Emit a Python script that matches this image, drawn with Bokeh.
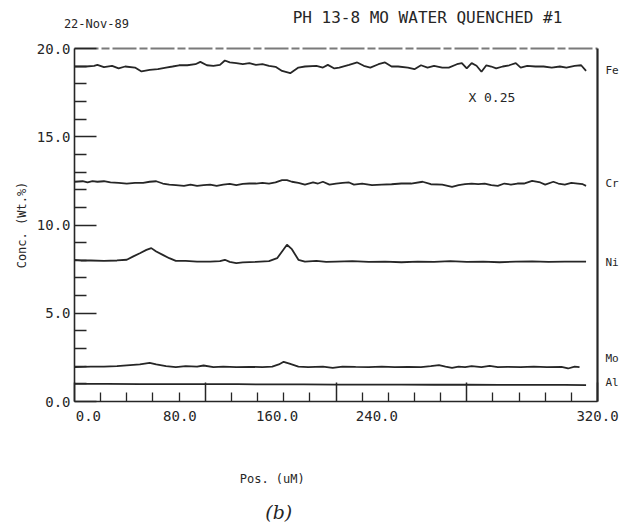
from bokeh.plotting import figure
from bokeh.models import Range1d, FixedTicker, Label, LinearAxis, PrintfTickFormatter
from bokeh.embed import file_html
from bokeh.resources import INLINE

# ---- data ----
fe_x = [0, 7, 12, 14, 18, 23, 27, 31, 37, 41, 46, 51, 56, 60, 64, 69, 74, 77, 81, 85,
        89, 92, 95, 99, 103, 107, 111, 115, 119, 123, 127, 132, 137, 141, 148, 152, 155, 159, 162, 168,
        173, 177, 181, 186, 190, 194, 198, 204, 208, 212, 216, 220, 225, 229, 234, 237, 240, 243, 246, 249,
        252, 255, 258, 262, 266, 270, 273, 277, 282, 287, 292, 297, 301, 306, 310, 313]
fe_y = [18.98, 18.98, 19.02, 19.07, 18.94, 19.02, 18.87, 18.98, 18.92, 18.70,
        18.79, 18.83, 18.92, 18.98, 19.05, 19.05, 19.11, 19.24, 19.05, 19.02,
        19.07, 19.32, 19.21, 19.17, 19.11, 19.17, 19.07, 19.11, 19.02, 18.96,
        18.73, 18.60, 18.92, 18.98, 19.02, 18.92, 19.07, 18.87, 18.92, 19.07,
        19.21, 19.02, 18.92, 19.11, 19.21, 18.98, 18.98, 18.92, 18.83, 19.05,
        18.92, 19.02, 18.92, 18.92, 19.11, 19.17, 18.87, 19.17, 19.02, 18.68,
        19.05, 18.98, 18.87, 18.98, 19.05, 19.17, 18.92, 19.02, 18.98, 18.98,
        18.92, 18.98, 18.92, 19.02, 19.05, 18.73]

cr_x = [0, 5, 8, 11, 14, 18, 22, 27, 32, 37, 42, 46, 50, 54, 58, 62, 67, 71, 75, 79,
        83, 87, 91, 95, 99, 103, 107, 111, 115, 119, 123, 127, 130, 133, 137, 141, 146, 149, 152, 156,
        160, 164, 168, 171, 176, 182, 188, 194, 200, 206, 213, 218, 225, 231, 235, 239, 243, 247, 251, 255,
        259, 263, 267, 271, 275, 280, 285, 288, 293, 296, 300, 304, 308, 311, 313]
cr_y = [12.45, 12.48, 12.41, 12.48, 12.45, 12.48, 12.41, 12.39, 12.35, 12.39,
        12.39, 12.45, 12.48, 12.35, 12.29, 12.26, 12.22, 12.29, 12.22, 12.26,
        12.29, 12.22, 12.29, 12.33, 12.26, 12.33, 12.35, 12.35, 12.39, 12.35,
        12.41, 12.54, 12.54, 12.45, 12.39, 12.29, 12.41, 12.35, 12.45, 12.29,
        12.35, 12.39, 12.41, 12.29, 12.35, 12.26, 12.29, 12.31, 12.35, 12.35,
        12.45, 12.31, 12.29, 12.16, 12.26, 12.31, 12.35, 12.31, 12.35, 12.26,
        12.22, 12.35, 12.29, 12.35, 12.35, 12.50, 12.41, 12.29, 12.45, 12.35,
        12.29, 12.39, 12.35, 12.31, 12.22]

ni_x = [0, 4, 10, 18, 26, 32, 36, 40, 44, 47, 50, 54, 58, 62, 68, 75, 83, 89, 92, 95,
        99, 103, 111, 119, 124, 127, 130, 133, 137, 141, 148, 154, 160, 170, 180, 190, 200, 210, 220, 230,
        240, 250, 260, 270, 280, 290, 300, 313]
ni_y = [8.03, 7.99, 7.99, 7.97, 7.99, 8.03, 8.22, 8.40, 8.59, 8.69,
        8.50, 8.31, 8.12, 7.97, 7.97, 7.93, 7.93, 7.95, 8.03, 7.91,
        7.84, 7.88, 7.91, 7.95, 8.12, 8.50, 8.88, 8.63, 8.03, 7.93,
        7.97, 7.91, 7.93, 7.95, 7.91, 7.93, 7.89, 7.93, 7.91, 7.95,
        7.91, 7.93, 7.89, 7.92, 7.94, 7.91, 7.93, 7.92]

mo_x = [0, 10, 18, 26, 34, 40, 46, 50, 56, 62, 68, 75, 79, 85, 91, 99, 107, 115, 121, 125,
        128, 132, 137, 143, 152, 158, 164, 172, 180, 188, 196, 204, 212, 218, 223, 227, 231, 235, 239, 243,
        249, 254, 259, 265, 273, 281, 289, 298, 302, 306, 309]
mo_y = [1.95, 1.98, 1.98, 2.00, 2.06, 2.10, 2.19, 2.10, 2.00, 1.95,
        2.00, 1.98, 2.04, 1.95, 1.98, 1.95, 1.96, 1.95, 1.98, 2.10,
        2.25, 2.13, 1.98, 1.95, 1.98, 1.91, 1.98, 1.96, 1.95, 1.98,
        1.95, 1.96, 1.95, 2.00, 2.06, 1.98, 1.91, 1.98, 1.95, 2.00,
        1.95, 2.02, 1.95, 1.96, 1.95, 1.98, 1.95, 1.96, 1.87, 1.98,
        1.95]

al_x = [0, 20, 40, 60, 80, 100, 120, 140, 160, 180, 200, 220, 240, 260, 280, 300, 313]
al_y = [1.00, 1.00, 0.99, 0.99, 0.98, 0.98, 0.97, 0.97, 0.96, 0.96, 0.96, 0.95, 0.95, 0.94, 0.94, 0.94, 0.93]

element_names = ["Fe", "Cr", "Ni", "Mo", "Al"]
element_label_levels = [18.75, 12.35, 7.85, 2.45, 1.05]

x_major_ticks = [0, 80, 160, 240, 320]
x_minor_ticks = [16, 32, 48, 64, 96, 112, 128, 144, 176, 192, 208, 224, 256, 272, 288, 304]
# the plotter printed its x labels offset from the tick marks; these are where they sit
x_tick_label_spots = [8.5, 64.5, 124, 185, 320]
x_tick_labels = ["0.0", "80.0", "160.0", "240.0", "320.0"]
y_major_ticks = [0, 5, 10, 15, 20]
y_minor_ticks = [1, 2, 3, 4, 6, 7, 8, 9, 11, 12, 13, 14, 16, 17, 18, 19]

title_text = "PH 13-8 MO WATER QUENCHED #1"
date_text = "22-Nov-89"
scale_note = "X 0.25"
x_label = "Pos. (uM)"
y_label = "Conc. (Wt.%)"
panel_label = "(b)"

FONT = "DejaVu Sans Mono"
INK = "#262626"

p = figure(width=635, height=525, output_backend="svg", toolbar_location=None,
           x_range=Range1d(0, 320), y_range=Range1d(0, 20),
           min_border_left=74, min_border_right=38, min_border_top=48, min_border_bottom=124)
p.background_fill_color = "white"
p.border_fill_color = "white"
p.outline_line_color = None
p.grid.visible = False

series = [(fe_x, fe_y), (cr_x, cr_y), (ni_x, ni_y), (mo_x, mo_y), (al_x, al_y)]
for xs, ys in series:
    p.line(xs, ys, line_color=INK, line_width=1.8)


def text_axis(axis, ticks, labels, size, standoff, font=FONT, style="normal", line=None, dash="solid"):
    axis.ticker = FixedTicker(ticks=ticks, minor_ticks=[])
    axis.major_label_overrides = {t: s for t, s in zip(ticks, labels)}
    axis.major_tick_line_color = None
    axis.minor_tick_line_color = None
    axis.major_tick_in = 0
    axis.major_tick_out = 0
    axis.minor_tick_in = 0
    axis.minor_tick_out = 0
    axis.major_label_standoff = standoff
    axis.major_label_text_font = font
    axis.major_label_text_font_size = size
    axis.major_label_text_font_style = style
    axis.major_label_text_color = INK
    axis.axis_line_color = line
    axis.axis_line_width = 2.0
    axis.axis_line_dash = dash


# main x axis: tick marks only (its printed labels come from the axis below)
xa = p.xaxis[0]
xa.ticker = FixedTicker(ticks=x_major_ticks, minor_ticks=x_minor_ticks)
xa.major_label_text_font_size = "0px"
xa.major_label_text_color = None
xa.major_label_standoff = 0
xa.major_tick_in = 19
xa.major_tick_out = 0
xa.minor_tick_in = 9
xa.minor_tick_out = 0

ya = p.yaxis[0]
ya.ticker = FixedTicker(ticks=y_major_ticks, minor_ticks=y_minor_ticks)
ya.formatter = PrintfTickFormatter(format="%.1f")
ya.major_tick_in = 22
ya.major_tick_out = 0
ya.minor_tick_in = 12
ya.minor_tick_out = 0
ya.major_label_standoff = 4
ya.major_label_text_font = FONT
ya.major_label_text_font_size = "14px"
ya.major_label_text_color = INK
ya.axis_label = y_label
ya.axis_label_standoff = 5
ya.axis_label_text_font = FONT
ya.axis_label_text_font_size = "12px"
ya.axis_label_text_font_style = "normal"
ya.axis_label_text_color = INK

for ax in (xa, ya):
    ax.axis_line_color = INK
    ax.axis_line_width = 1.6
    ax.major_tick_line_color = INK
    ax.major_tick_line_width = 1.5
    ax.minor_tick_line_color = INK
    ax.minor_tick_line_width = 1.3

# x tick labels as printed
xl = LinearAxis()
text_axis(xl, x_tick_label_spots, x_tick_labels, "14px", 9)
p.add_layout(xl, "below")

# x axis title and panel caption
xt = LinearAxis()
text_axis(xt, [121], [x_label], "12px", 48)
p.add_layout(xt, "below")

cap = LinearAxis()
text_axis(cap, [125], [panel_label], "19px", 12, font="DejaVu Serif", style="italic")
p.add_layout(cap, "below")

# right border with element names
ra = LinearAxis()
text_axis(ra, element_label_levels, element_names, "11px", 8, line=INK)
ra.axis_line_width = 2.2
p.add_layout(ra, "right")

# top border (broken) with the date, and the title above it
ta = LinearAxis()
text_axis(ta, [13.4], [date_text], "12px", 18, line="#7a7a7a", dash="24 3 8 3")
ta.axis_line_width = 1.8
p.add_layout(ta, "above")

tt = LinearAxis()
text_axis(tt, [216], [title_text], "16px", -13)
p.add_layout(tt, "above")

p.add_layout(Label(x=241, y=17.2, text=scale_note, text_font=FONT, text_font_size="13px",
                   text_align="left", text_baseline="middle", text_color=INK))

open("out.html", "w").write(file_html(p, INLINE))
